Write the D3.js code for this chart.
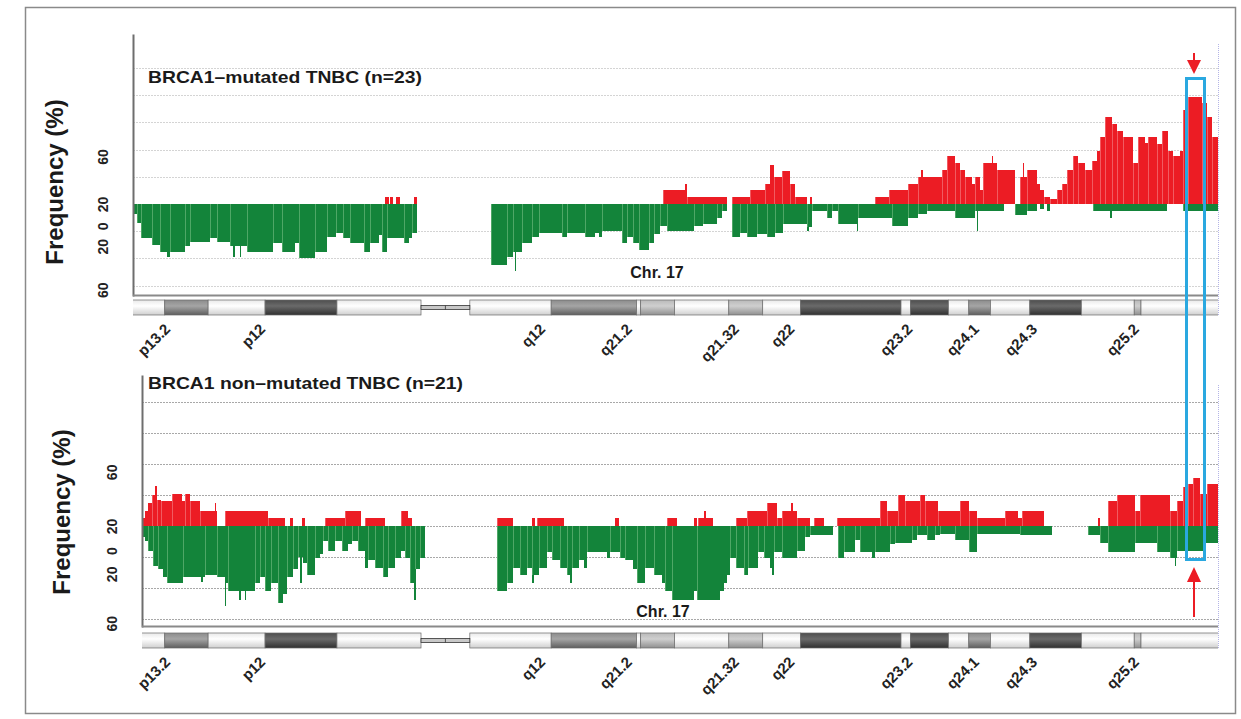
<!DOCTYPE html>
<html>
<head>
<meta charset="utf-8">
<script src="https://cdn.jsdelivr.net/npm/d3@7"></script>
<style>
  body { margin: 0; background: #fff; }
  svg { display: block; font-family: "Liberation Sans", Arial, sans-serif; }
</style>
</head>
<body>
<svg id="chart" width="1241" height="719"></svg>
<script>
// chromosome 17 (hg19) cytobands, Mb
const chrLen = 81.2;
const bandStart = [0, 3.3, 6.5, 10.7, 16.0, 22.2, 24.0, 25.8, 31.8, 38.1, 38.4, 40.9, 44.9, 47.4, 50.2, 57.6, 58.3, 61.1, 62.6, 64.2, 67.1, 70.9, 74.8, 75.3];
const bandStain = ["gneg", "gpos50", "gneg", "gpos75", "gneg", "acen", "acen", "gneg", "gpos50", "gneg", "gpos25", "gneg", "gpos25", "gneg", "gpos75", "gneg", "gpos75", "gneg", "gpos50", "gneg", "gpos75", "gneg", "gpos25", "gneg"];
const bandLabels = ["p13.2", "p12", "q12", "q21.2", "q21.32", "q22", "q23.2", "q24.1", "q24.3", "q25.2"];
const bandLabelPos = [3.55, 10.56, 31.2, 37.6, 45.5, 49.6, 58.3, 63.2, 67.5, 75.0];

const yTickValues = [35, 0, -16, -31, -63];
const yTickLabels = ["60", "20", "0", "20", "60"];

// frequency segments: [start Mb, end Mb, %]
const gainMut = [
  [19.56, 19.81, 5], [19.93, 20.12, 5], [20.37, 20.66, 5], [21.65, 21.94, 5],
  [40.08, 41.68, 10], [41.68, 41.80, 15], [41.80, 44.75, 5], [45.17, 46.47, 5], [46.47, 47.58, 10],
  [47.58, 47.95, 15], [47.95, 48.20, 29], [48.20, 48.81, 20], [48.81, 49.43, 24], [49.43, 49.79, 15],
  [49.79, 50.65, 5], [50.9, 51.0, 5],
  [55.69, 56.68, 5], [56.68, 58.15, 10], [58.15, 58.89, 15], [58.89, 60.61, 20], [59.1, 59.2, 25],
  [60.61, 60.98, 25], [60.98, 61.59, 35], [61.59, 61.96, 30], [61.96, 62.33, 25], [62.33, 62.82, 20],
  [62.82, 63.07, 15], [63.07, 63.44, 20], [63.44, 63.68, 10], [63.68, 64.67, 30], [64.3, 64.4, 35],
  [64.67, 66.02, 25], [66.39, 66.88, 20], [66.6, 66.7, 30], [66.88, 67.62, 25], [67.62, 67.86, 15],
  [67.86, 68.11, 10], [68.11, 68.60, 5], [68.60, 69.09, 4], [69.09, 69.46, 10], [69.46, 69.83, 15],
  [69.83, 70.32, 25], [70.32, 70.69, 35], [70.69, 71.18, 30], [71.18, 71.67, 25], [71.67, 72.04, 32],
  [72.04, 72.28, 39], [72.28, 72.65, 49], [72.65, 73.14, 64], [73.14, 73.51, 59], [73.51, 74.00, 54],
  [74.00, 74.74, 49], [74.74, 75.11, 30], [75.11, 75.60, 49], [75.60, 75.85, 45], [75.85, 76.46, 49],
  [76.46, 76.83, 44], [76.83, 77.32, 54], [77.32, 77.69, 39], [77.69, 78.18, 35], [78.18, 78.43, 39],
  [78.43, 78.80, 69], [78.80, 79.78, 79], [79.78, 80.15, 74], [80.15, 80.52, 64], [80.52, 81.01, 49]
];
const lossMut = [
  [0.95, 1.24, 7], [1.24, 1.54, 14], [1.54, 2.35, 25], [2.35, 2.92, 30], [2.92, 3.46, 35], [3.46, 3.70, 39],
  [3.70, 4.81, 35], [4.81, 5.18, 31], [5.18, 6.65, 28], [6.65, 7.19, 25], [7.19, 8.13, 28], [8.13, 9.35, 31],
  [8.37, 8.47, 39], [8.86, 8.96, 39], [9.35, 11.32, 35], [11.32, 11.94, 29], [11.94, 12.92, 35],
  [12.92, 13.17, 29], [13.17, 14.40, 40], [14.40, 15.26, 35], [15.26, 15.94, 24], [15.94, 16.48, 21],
  [16.48, 16.98, 25], [16.98, 17.96, 29], [17.96, 18.45, 35], [18.45, 19.07, 29], [19.07, 19.31, 23],
  [19.31, 19.68, 35], [19.68, 20.91, 25], [20.91, 21.28, 29], [21.28, 21.52, 25], [21.52, 21.94, 21],
  [27.37, 28.53, 45], [28.53, 29.0, 39], [29.0, 29.64, 35], [29.1, 29.2, 49], [29.64, 30.38, 29],
  [30.38, 30.87, 24], [30.87, 32.59, 21], [32.59, 32.95, 24], [32.95, 34.31, 21], [34.31, 35.04, 24],
  [35.04, 35.29, 21], [35.29, 35.54, 24], [35.54, 37.01, 20], [37.01, 37.38, 29], [37.38, 37.87, 24],
  [37.87, 38.24, 29], [38.24, 38.98, 34], [38.98, 39.35, 29], [39.35, 39.84, 22], [39.84, 40.33, 16],
  [40.33, 42.30, 20], [42.30, 43.03, 16], [43.03, 44.02, 15], [44.02, 44.39, 10], [44.39, 44.75, 5],
  [45.17, 45.74, 24], [45.74, 46.23, 21], [46.23, 46.97, 24], [46.97, 47.70, 22], [47.70, 48.32, 24],
  [48.32, 48.93, 21], [48.93, 50.65, 15], [50.65, 51.02, 17], [50.7, 50.85, 20], [51.02, 52.13, 5],
  [52.13, 52.50, 10], [52.50, 52.99, 5], [52.99, 54.34, 15], [54.34, 54.46, 20], [54.46, 56.92, 10],
  [56.92, 58.15, 16], [58.15, 58.89, 10], [58.89, 59.5, 7], [59.5, 61.59, 5], [61.59, 63.07, 10],
  [63.2, 63.3, 20], [63.07, 65.16, 5], [66.02, 66.88, 8], [66.88, 67.62, 5], [67.86, 68.11, 4],
  [68.36, 68.6, 5], [71.79, 77.2, 5], [73.0, 73.15, 10], [78.43, 81.01, 5]
];
const gainNon = [
  [1.59, 1.83, 5], [1.83, 2.08, 10], [2.08, 2.33, 15], [2.33, 2.70, 20], [2.6, 2.7, 26], [2.70, 3.06, 17],
  [3.06, 3.80, 16], [3.80, 4.54, 21], [4.54, 4.78, 16], [4.78, 5.15, 21], [5.15, 5.89, 16], [5.89, 7.12, 10],
  [7.0, 7.1, 15], [7.73, 10.93, 10], [10.93, 12.16, 5], [12.53, 12.77, 5], [13.40, 13.65, 5],
  [15.11, 16.58, 5], [16.58, 17.81, 10], [18.06, 19.53, 5], [20.76, 21.25, 10], [21.25, 21.50, 5],
  [27.79, 29.02, 5], [30.38, 30.60, 5], [30.72, 32.71, 5], [36.52, 36.77, 5], [40.33, 41.07, 5],
  [42.30, 42.54, 5], [42.66, 43.77, 5], [43.1, 43.2, 10], [45.44, 46.23, 5], [46.23, 47.71, 10],
  [47.71, 48.44, 15], [48.44, 48.81, 5], [48.81, 49.92, 10], [49.5, 49.6, 15], [49.92, 50.90, 5],
  [51.15, 51.89, 5], [52.87, 56.06, 5], [56.06, 56.55, 16], [56.55, 57.41, 10], [57.41, 57.90, 20],
  [57.90, 59.01, 16], [59.01, 59.38, 20], [59.38, 60.36, 16], [60.36, 61.96, 10], [61.96, 62.58, 16],
  [62.58, 63.19, 10], [63.19, 65.28, 5], [65.28, 66.26, 10], [66.26, 66.51, 5], [66.51, 68.11, 10],
  [72.16, 72.28, 5], [72.90, 73.51, 16], [73.51, 74.87, 20], [74.87, 75.23, 10], [75.23, 77.45, 20],
  [77.45, 77.94, 10], [77.94, 78.43, 16], [78.43, 78.80, 25], [78.80, 79.17, 27], [79.17, 79.66, 31],
  [79.66, 80.15, 21], [80.15, 81.01, 27]
];
const lossNon = [
  [1.59, 1.83, 7], [1.83, 2.08, 10], [2.08, 2.45, 16], [2.45, 2.82, 26], [2.82, 3.19, 28], [3.19, 3.43, 33],
  [3.43, 4.66, 37], [4.66, 6.26, 33], [6.0, 6.1, 36], [6.26, 7.12, 32], [7.12, 7.73, 33], [7.73, 7.98, 37],
  [7.75, 7.85, 52], [7.98, 9.95, 42], [8.8, 8.9, 48], [9.2, 9.3, 48], [9.95, 10.31, 37], [10.31, 10.68, 33],
  [10.68, 11.17, 42], [11.17, 11.67, 37], [11.67, 12.04, 50], [12.04, 12.28, 44], [12.28, 12.77, 33],
  [12.77, 13.14, 28], [13.3, 13.4, 37], [13.14, 13.51, 20], [13.51, 13.76, 24], [13.76, 14.37, 32],
  [14.37, 14.74, 21], [14.74, 14.99, 18], [14.99, 15.36, 10], [15.36, 15.85, 16], [15.85, 16.34, 10],
  [16.34, 16.83, 16], [16.83, 17.08, 12], [17.08, 17.57, 10], [17.57, 18.06, 16], [18.06, 18.30, 27],
  [18.30, 18.80, 22], [18.80, 19.41, 27], [19.41, 19.78, 33], [19.78, 20.27, 27], [20.27, 20.76, 21],
  [20.76, 21.00, 16], [21.00, 21.38, 21], [21.38, 21.75, 37], [21.7, 21.8, 48], [21.75, 22.11, 28],
  [22.11, 22.48, 21],
  [27.79, 28.53, 42], [28.53, 29.02, 37], [29.02, 29.51, 27], [29.51, 30.01, 32], [30.01, 30.38, 27],
  [30.38, 30.87, 32], [30.4, 30.5, 37], [30.87, 31.48, 27], [31.48, 31.85, 17], [31.85, 32.47, 22],
  [32.47, 32.96, 27], [32.96, 33.33, 32], [33.2, 33.3, 37], [33.33, 33.82, 27], [33.82, 34.19, 22],
  [34.19, 34.43, 27], [34.43, 35.91, 17], [35.91, 36.15, 21], [36.15, 36.89, 17], [36.89, 37.26, 21],
  [37.26, 37.87, 22], [37.87, 38.12, 28], [38.12, 38.73, 37], [38.73, 39.35, 27], [39.35, 39.96, 32],
  [39.96, 40.21, 37], [40.21, 40.70, 42], [40.70, 42.30, 48], [42.30, 42.54, 42], [42.54, 44.26, 48],
  [44.26, 44.51, 42], [44.51, 44.76, 37], [44.76, 45.00, 32], [45.00, 45.44, 21], [45.44, 45.99, 27],
  [45.99, 46.35, 32], [46.35, 47.09, 27], [47.09, 47.46, 17], [47.46, 47.95, 21], [47.95, 48.20, 27],
  [48.1, 48.2, 32], [48.20, 48.81, 17], [48.81, 49.92, 21], [49.92, 50.53, 16], [50.53, 50.90, 7],
  [50.90, 52.62, 6], [52.99, 53.36, 21], [53.36, 54.22, 17], [54.22, 54.59, 9], [54.59, 55.45, 17],
  [55.45, 55.69, 21], [55.69, 56.80, 17], [56.80, 57.17, 12], [57.17, 58.40, 11], [58.40, 58.76, 9],
  [58.76, 59.50, 6], [59.50, 60.12, 9], [60.12, 60.49, 6], [60.49, 61.59, 5], [61.59, 62.58, 9],
  [62.58, 63.19, 17], [63.19, 66.39, 5], [66.39, 68.72, 6], [71.42, 72.28, 6], [72.28, 72.90, 11],
  [72.90, 74.87, 17], [74.87, 76.46, 11], [76.46, 77.45, 17], [77.45, 77.94, 21], [77.8, 77.9, 26],
  [77.94, 79.91, 16], [79.91, 81.01, 11]
];

const panels = [
  { title: "BRCA1\u2013mutated TNBC (n=23)", gain: gainMut, loss: lossMut, x0: 133, top: 34, bottom: 296,
    yDomain: [-67.6, 125], grids: [-60, -40, -20, 20, 40, 60, 80, 100], gridColor: "#d4d4d4",
    titleY: 83, titleW: 274, chrX: 657, chrY: 278, freqX: 63, freqY: 182, ideoTop: 300 },
  { title: "BRCA1 non\u2013mutated TNBC (n=21)", gain: gainNon, loss: lossNon, x0: 142, top: 375, bottom: 627,
    yDomain: [-65.4, 97.7], grids: [-60, -40, -20, 0, 20, 40, 60, 80], gridColor: "#a8a8a8",
    titleY: 389, titleW: 315, chrX: 663, chrY: 617, freqX: 70, freqY: 512, ideoTop: 633 }
];

const red = "#ec1c24", green = "#13843a";
const xRight = 1218;
const ideoH = 15;

const svg = d3.select("#chart");
const x = d3.scaleLinear().domain([0, chrLen]).range([120, 1221]);
const xr = v => Math.round(x(v));

// gradients for cytoband stains
const defs = svg.append("defs");
const stainCols = {
  gneg: ["#e9e9e9", "#ffffff", "#cfcfcf"],
  gpos25: ["#b9b9b9", "#cfcfcf", "#8f8f8f"],
  gpos50: ["#8c8c8c", "#a5a5a5", "#5e5e5e"],
  gpos75: ["#4e4e4e", "#6a6a6a", "#303030"]
};
Object.entries(stainCols).forEach(([k, c]) => {
  const g = defs.append("linearGradient").attr("id", "g-" + k)
    .attr("x1", 0).attr("y1", 0).attr("x2", 0).attr("y2", 1);
  g.append("stop").attr("offset", "0%").attr("stop-color", c[0]);
  g.append("stop").attr("offset", "40%").attr("stop-color", c[1]);
  g.append("stop").attr("offset", "100%").attr("stop-color", c[2]);
});

// outer frame
svg.append("rect").attr("x", 25.5).attr("y", 7.5).attr("width", 1210).attr("height", 706)
  .attr("fill", "none").attr("stroke", "#8a8a8a").attr("stroke-width", 1.5);

panels.forEach((p, pi) => {
  const y = d3.scaleLinear().domain(p.yDomain).range([p.bottom, p.top]);
  const g = svg.append("g");

  defs.append("clipPath").attr("id", "clip" + pi).append("rect")
    .attr("x", p.x0).attr("y", 0).attr("width", xRight - p.x0).attr("height", 719);

  // grid
  g.selectAll(".grid").data(p.grids).enter().append("line")
    .attr("x1", p.x0).attr("x2", xRight)
    .attr("y1", d => Math.round(y(d)) + 0.5).attr("y2", d => Math.round(y(d)) + 0.5)
    .attr("stroke", p.gridColor).attr("stroke-width", 1).attr("stroke-dasharray", "2,1");

  const bars = g.append("g").attr("clip-path", `url(#clip${pi})`).attr("shape-rendering", "crispEdges");
  const y0 = Math.round(y(0));
  bars.selectAll(".loss").data(p.loss).enter().append("rect")
    .attr("x", d => xr(d[0])).attr("width", d => Math.max(1, xr(d[1]) - xr(d[0])))
    .attr("y", y0).attr("height", d => Math.round(y(-d[2])) - y0)
    .attr("fill", green);
  bars.selectAll(".gain").data(p.gain).enter().append("rect")
    .attr("x", d => xr(d[0])).attr("width", d => Math.max(1, xr(d[1]) - xr(d[0])))
    .attr("y", d => Math.round(y(d[2]))).attr("height", d => y0 - Math.round(y(d[2])))
    .attr("fill", red);
  // faint probe-boundary stripes
  bars.selectAll(".lstripe").data(p.loss.filter(d => d[1] - d[0] > 0.3)).enter().append("rect")
    .attr("x", d => xr(d[0])).attr("width", 1)
    .attr("y", y0).attr("height", d => Math.round(y(-d[2])) - y0)
    .attr("fill", "#7fc58a").attr("opacity", 0.55);
  bars.selectAll(".gstripe").data(p.gain.filter(d => d[1] - d[0] > 0.3)).enter().append("rect")
    .attr("x", d => xr(d[0])).attr("width", 1)
    .attr("y", d => Math.round(y(d[2]))).attr("height", d => y0 - Math.round(y(d[2])))
    .attr("fill", "#f59a9d").attr("opacity", 0.5);

  // right edge
  g.append("line").attr("x1", xRight + 0.5).attr("x2", xRight + 0.5)
    .attr("y1", p.top + 10).attr("y2", p.ideoTop + ideoH)
    .attr("stroke", "#b4b4e6").attr("stroke-dasharray", "1,1");

  // y axis
  const axis = g.append("g").attr("transform", `translate(${p.x0},0)`)
    .call(d3.axisLeft(y).tickValues(yTickValues).tickFormat((d, i) => yTickLabels[i]).tickSize(0));
  axis.select(".domain").attr("stroke", "#6e6e6e").attr("stroke-width", 2);
  axis.selectAll("text")
    .attr("x", 0).attr("dy", 0)
    .attr("transform", "translate(-25,0) rotate(-90)")
    .attr("text-anchor", "middle")
    .attr("fill", "#222").attr("font-size", 14).attr("font-weight", "bold")
    .attr("font-family", "'Liberation Sans', Arial, sans-serif");

  // bottom line
  g.append("line").attr("x1", p.x0).attr("x2", xRight).attr("y1", p.bottom - 0.5).attr("y2", p.bottom - 0.5)
    .attr("stroke", "#8a8a8a").attr("stroke-width", 2);

  // ideogram
  const ideo = g.append("g").attr("clip-path", `url(#clip${pi})`);
  const bands = bandStart.map((s, i) => ({ s, e: i < bandStart.length - 1 ? bandStart[i + 1] : chrLen, stain: bandStain[i] }));
  ideo.selectAll(".band").data(bands.filter(b => b.stain !== "acen")).enter().append("rect")
    .attr("x", d => x(d.s)).attr("width", d => x(d.e) - x(d.s))
    .attr("y", p.ideoTop).attr("height", ideoH)
    .attr("fill", d => `url(#g-${d.stain})`)
    .attr("stroke", "#6a6a6a").attr("stroke-width", 0.7);
  const cen = bands.filter(b => b.stain === "acen");
  ideo.append("rect").attr("x", x(cen[0].s)).attr("width", x(cen[1].e) - x(cen[0].s))
    .attr("y", p.ideoTop + ideoH / 2 - 2).attr("height", 4)
    .attr("fill", "#c8c8c8").attr("stroke", "#333").attr("stroke-width", 0.8);
  ideo.append("line").attr("x1", x(cen[1].s)).attr("x2", x(cen[1].s))
    .attr("y1", p.ideoTop + ideoH / 2 - 2).attr("y2", p.ideoTop + ideoH / 2 + 2)
    .attr("stroke", "#333").attr("stroke-width", 0.8);

  // band labels
  g.selectAll(".blab").data(bandLabels).enter().append("text")
    .attr("transform", (d, i) => `translate(${x(bandLabelPos[i]) + 3},${p.ideoTop + ideoH + 15}) rotate(-45)`)
    .attr("text-anchor", "end").attr("font-size", 15).attr("font-weight", "bold").attr("fill", "#222")
    .text(d => d);

  // titles
  g.append("text").attr("x", 148).attr("y", p.titleY)
    .attr("font-size", 17).attr("font-weight", "bold").attr("fill", "#1a1a1a")
    .attr("textLength", p.titleW).attr("lengthAdjust", "spacingAndGlyphs")
    .text(p.title);
  g.append("text").attr("x", p.chrX).attr("y", p.chrY).attr("text-anchor", "middle")
    .attr("font-size", 16).attr("font-weight", "bold").attr("fill", "#1a1a1a")
    .text("Chr. 17");
  g.append("text").attr("transform", `translate(${p.freqX},${p.freqY}) rotate(-90)`)
    .attr("text-anchor", "middle").attr("font-size", 24).attr("font-weight", "bold").attr("fill", "#1a1a1a")
    .text("Frequency (%)");
});

// highlight box and arrows
svg.append("rect").attr("x", 1186.5).attr("y", 78.5).attr("width", 18).attr("height", 481)
  .attr("fill", "none").attr("stroke", "#2aa8e0").attr("stroke-width", 3);
const arrowX = 1194;
svg.append("line").attr("x1", arrowX).attr("x2", arrowX).attr("y1", 53).attr("y2", 63)
  .attr("stroke", red).attr("stroke-width", 2);
svg.append("path").attr("d", `M${arrowX - 7},60 L${arrowX + 7},60 L${arrowX},74 Z`).attr("fill", red);
svg.append("line").attr("x1", arrowX).attr("x2", arrowX).attr("y1", 617).attr("y2", 578)
  .attr("stroke", red).attr("stroke-width", 2);
svg.append("path").attr("d", `M${arrowX - 7},582 L${arrowX + 7},582 L${arrowX},567 Z`).attr("fill", red);
</script>
</body>
</html>
